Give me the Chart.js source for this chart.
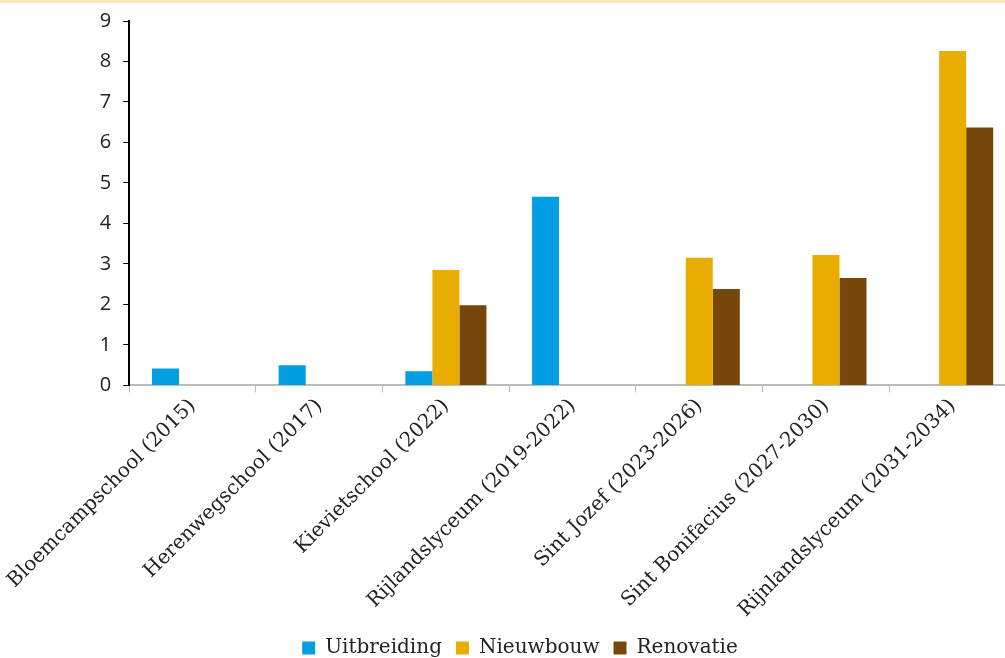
<!DOCTYPE html>
<html>
<head>
<meta charset="utf-8">
<script src="https://cdn.jsdelivr.net/npm/chart.js@4.4.0/dist/chart.umd.min.js"></script>
<style>
  html, body { margin: 0; padding: 0; background: #fff; overflow: hidden; }
  body { border-top: 3px solid #fde6b8; }
  #wrap { position: relative; width: 1018px; height: 665px; }
</style>
</head>
<body>
<div id="wrap"><canvas id="chart"></canvas></div>
<script>
// schools and the planned work per type
const schools = [
  'Bloemcampschool (2015)',
  'Herenwegschool (2017)',
  'Kievietschool (2022)',
  'Rijlandslyceum (2019-2022)',
  'Sint Jozef (2023-2026)',
  'Sint Bonifacius (2027-2030)',
  'Rijnlandslyceum (2031-2034)'
];
const uitbreiding = [0.42, 0.5, 0.35, 4.66, null, null, null];
const nieuwbouw   = [null, null, 2.85, null, 3.15, 3.22, 8.26];
const renovatie   = [null, null, 1.98, null, 2.38, 2.65, 6.37];

const serif = '"DejaVu Serif", serif';

new Chart(document.getElementById('chart'), {
  type: 'bar',
  data: {
    labels: schools,
    datasets: [
      { label: 'Uitbreiding', data: uitbreiding, backgroundColor: '#009fe3' },
      { label: 'Nieuwbouw', data: nieuwbouw, backgroundColor: '#e8ad00' },
      { label: 'Renovatie', data: renovatie, backgroundColor: '#774709' }
    ]
  },
  options: {
    responsive: true,
    maintainAspectRatio: false,
    animation: false,
    layout: { padding: { top: 18, right: 2, left: 24, bottom: 0 } },
    datasets: { bar: { barPercentage: 1.0, categoryPercentage: 0.64 } },
    plugins: {
      legend: {
        position: 'bottom',
        labels: {
          boxWidth: 13,
          boxHeight: 13,
          padding: 14,
          color: '#222',
          font: { family: serif, size: 20 }
        }
      },
      tooltip: { enabled: false }
    },
    scales: {
      x: {
        grid: {
          drawOnChartArea: false,
          drawTicks: true,
          tickLength: 7,
          color: '#bbb',
          offset: true
        },
        border: { color: '#bbb', width: 2 },
        ticks: {
          maxRotation: 45,
          minRotation: 45,
          color: '#222',
          padding: 2,
          font: { family: serif, size: 20 }
        }
      },
      y: {
        min: 0,
        max: 9,
        // widen the value axis so it sits at x=128, and let the top follow layout padding
        afterFit: (scale) => { scale.width = 104; scale.paddingTop = 0; },
        grid: {
          drawOnChartArea: false,
          drawTicks: true,
          tickLength: 6,
          color: '#000'
        },
        border: { color: '#000', width: 2 },
        ticks: {
          stepSize: 1,
          color: '#222',
          padding: 12,
          font: { family: '"Open Sans", sans-serif', size: 20 }
        }
      }
    }
  }
});
</script>
</body>
</html>
